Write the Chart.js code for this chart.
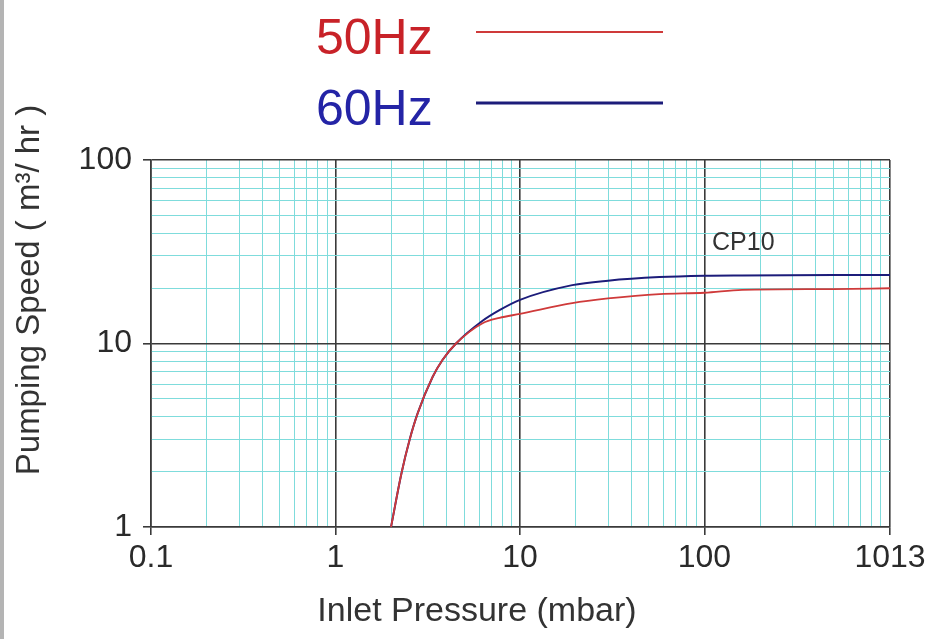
<!DOCTYPE html>
<html>
<head>
<meta charset="utf-8">
<script src="https://cdn.jsdelivr.net/npm/chart.js@4"></script>
<style>
  html, body { margin: 0; padding: 0; background: #fff; }
  body { border-left: 4px solid #b4b4b4; box-sizing: border-box; width: 949px; height: 639px; }
  #wrap { width: 945px; height: 639px; }
</style>
</head>
<body>
<div id="wrap"><canvas id="chart-cp10"></canvas></div>
<script>
// Inlet pressure (mbar) and pumping speed (m3/hr)
const pressure = [2, 2.28, 2.52, 2.79, 3.36, 3.8, 4.5, 6.27, 7.74, 10, 19.2, 30, 57, 100, 160, 500, 1013];
const speed50 = [1, 1.97, 2.98, 4.17, 6.57, 8.13, 10, 12.9, 13.8, 14.5, 16.6, 17.6, 18.6, 18.9, 19.6, 19.8, 20];
const speed60 = [1, 1.97, 2.98, 4.17, 6.57, 8.13, 10, 13.3, 15.2, 17.3, 20.8, 22.0, 23.0, 23.4, 23.5, 23.6, 23.6];

const xTicks = [0.1, 0.2, 0.3, 0.4, 0.5, 0.6, 0.7, 0.8, 0.9, 1, 2, 3, 4, 5, 6, 7, 8, 9,
                10, 20, 30, 40, 50, 60, 70, 80, 90, 100, 200, 300, 400, 500, 600, 700, 800, 900, 1013];
const xLabels = [0.1, 1, 10, 100, 1013];
const yTicks = [1, 2, 3, 4, 5, 6, 7, 8, 9, 10, 20, 30, 40, 50, 60, 70, 80, 90, 100];
const yLabels = [1, 10, 100];

const seriesNames = ['50Hz', '60Hz'];
const seriesColors = ['#cf3a3a', '#1c1c7a'];
const legendTextColors = ['#c82228', '#2424a6'];

const MAJOR = '#3a3a3a';
const MINOR = '#7fdcdc';
const FONT = '"Liberation Sans", Arial, sans-serif';

const isMajor = (v, labels) => labels.includes(v);

const gridFor = labels => ({
    color: ctx => ctx.tick && isMajor(ctx.tick.value, labels) ? MAJOR : MINOR,
    lineWidth: ctx => ctx.tick && isMajor(ctx.tick.value, labels) ? 1.6 : 1,
    tickColor: ctx => ctx.tick && isMajor(ctx.tick.value, labels) ? MAJOR : 'rgba(0,0,0,0)',
    tickLength: 8,
    drawTicks: true
});

// legend, titles and curve label drawn on the canvas
const annotations = {
    id: 'annotations',
    afterDraw(chart) {
        const { ctx } = chart;
        ctx.save();
        ctx.textBaseline = 'alphabetic';
        ctx.textAlign = 'left';
        ctx.font = '50px ' + FONT;
        const rows = [54, 125];
        seriesNames.forEach((name, i) => {
            ctx.fillStyle = legendTextColors[i];
            ctx.fillText(name, 312, rows[i]);
            ctx.strokeStyle = seriesColors[i];
            ctx.lineWidth = i === 0 ? 2 : 3;
            ctx.beginPath();
            ctx.moveTo(472, rows[i] - 22);
            ctx.lineTo(659, rows[i] - 22);
            ctx.stroke();
        });

        ctx.fillStyle = '#333';
        ctx.font = '25px ' + FONT;
        ctx.fillText('CP10', 708, 250);

        ctx.font = '34px ' + FONT;
        ctx.textAlign = 'center';
        ctx.textBaseline = 'middle';
        ctx.fillText('Inlet Pressure (mbar)', 473, 612);

        ctx.translate(26, 290);
        ctx.rotate(-Math.PI / 2);
        ctx.font = '33px ' + FONT;
        ctx.fillText('Pumping Speed ( m\u00B3/ hr )', 0, 0);
        ctx.restore();
    }
};

const chart = new Chart(document.getElementById('chart-cp10'), {
    type: 'scatter',
    data: {
        datasets: [
            {
                label: seriesNames[0],
                data: pressure.map((p, i) => ({ x: p, y: speed50[i] })),
                borderColor: seriesColors[0],
                borderWidth: 1.8,
                showLine: true,
                pointRadius: 0,
                cubicInterpolationMode: 'monotone'
            },
            {
                label: seriesNames[1],
                data: pressure.map((p, i) => ({ x: p, y: speed60[i] })),
                borderColor: seriesColors[1],
                borderWidth: 2,
                showLine: true,
                pointRadius: 0,
                cubicInterpolationMode: 'monotone'
            }
        ]
    },
    options: {
        responsive: true,
        maintainAspectRatio: false,
        animation: false,
        layout: { padding: { top: 160, right: 59, left: 0, bottom: 0 } },
        plugins: { legend: { display: false }, tooltip: { enabled: false } },
        scales: {
            x: {
                type: 'logarithmic',
                min: 0.1,
                max: 1013,
                afterBuildTicks: s => { s.ticks = xTicks.map(v => ({ value: v })); },
                afterFit: s => { s.height = 112; },
                grid: gridFor(xLabels),
                border: { color: MAJOR, width: 1.6 },
                ticks: {
                    autoSkip: false,
                    maxRotation: 0,
                    padding: 4,
                    color: '#2a2a2a',
                    font: { family: FONT, size: 32 },
                    callback: v => isMajor(v, xLabels) ? String(v) : ''
                }
            },
            y: {
                type: 'logarithmic',
                min: 1,
                max: 100,
                afterBuildTicks: s => { s.ticks = yTicks.map(v => ({ value: v })); },
                afterFit: s => { s.width = 147; },
                grid: gridFor(yLabels),
                border: { color: MAJOR, width: 1.6 },
                ticks: {
                    autoSkip: false,
                    padding: 11,
                    color: '#2a2a2a',
                    font: { family: FONT, size: 32 },
                    callback: v => isMajor(v, yLabels) ? String(v) : ''
                }
            }
        }
    },
    plugins: [annotations]
});
</script>
</body>
</html>
